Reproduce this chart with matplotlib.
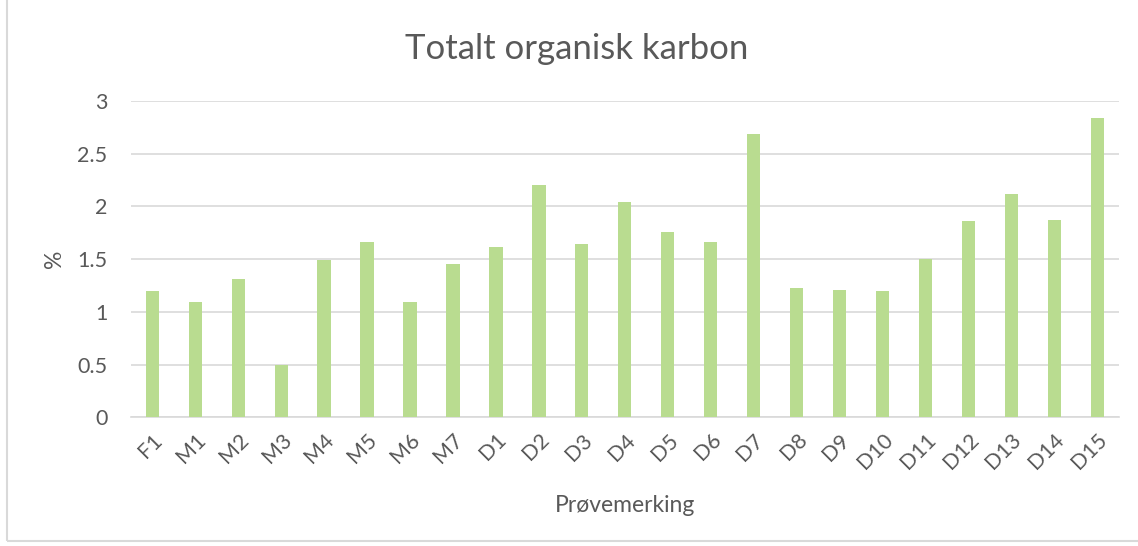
import matplotlib
matplotlib.use("Agg")
import matplotlib.pyplot as plt
from matplotlib.ticker import FuncFormatter
from matplotlib.patches import Rectangle

# DATOS DEL GRAFICO
prover = ["F1", "M1", "M2", "M3", "M4", "M5", "M6", "M7",
          "D1", "D2", "D3", "D4", "D5", "D6", "D7", "D8", "D9",
          "D10", "D11", "D12", "D13", "D14", "D15"]
toc = [1.20, 1.09, 1.31, 0.50, 1.49, 1.66, 1.09, 1.45,
       1.62, 2.20, 1.64, 2.04, 1.76, 1.66, 2.69, 1.23, 1.21,
       1.20, 1.50, 1.86, 2.12, 1.87, 2.84]
y_ticks = [0, 0.5, 1, 1.5, 2, 2.5, 3]

grå = "#595959"
plt.rcParams["font.family"] = ["Lato", "DejaVu Sans"]

fig = plt.figure(figsize=(11.38, 5.46), dpi=100)
ax = fig.add_axes([0.115, 0.2357, 0.868, 0.5793])

x = range(len(prover))
ax.bar(x, toc, width=0.31, color="#B9DC90", zorder=3)

ax.set_xlim(-0.5, len(prover) - 0.5)
ax.set_ylim(0, 3)
ax.set_yticks(y_ticks)
ax.yaxis.set_major_formatter(FuncFormatter(lambda v, p: f"{v:g}"))
ax.set_xticks(list(x))
ax.set_xticklabels(prover, rotation=45, ha="right", rotation_mode="anchor")

ax.grid(axis="y", color="#D9D9D9", linewidth=1.2, zorder=0)
for s in ["top", "right", "left"]:
    ax.spines[s].set_visible(False)
ax.spines["bottom"].set_color("#D9D9D9")
ax.spines["bottom"].set_linewidth(1.2)
ax.tick_params(axis="both", length=0, labelsize=15.5, colors=grå)
ax.tick_params(axis="y", pad=17)
ax.tick_params(axis="x", pad=9)

ax.set_ylabel("%", fontsize=16.5, color=grå, labelpad=9)
ax.set_xlabel("Prøvemerking", fontsize=16.5, color=grå, labelpad=16)
fig.text(0.507, 0.91, "Totalt organisk karbon", ha="center", va="center",
         fontsize=25, color=grå)

# BORDE DEL GRAFICO
fig.patches.append(Rectangle((0.006, 0.01), 1.2, 1.2, transform=fig.transFigure,
                             fill=False, edgecolor="#D9D9D9", linewidth=1.5))

fig.savefig("out.png", dpi=100)
plt.close(fig)
